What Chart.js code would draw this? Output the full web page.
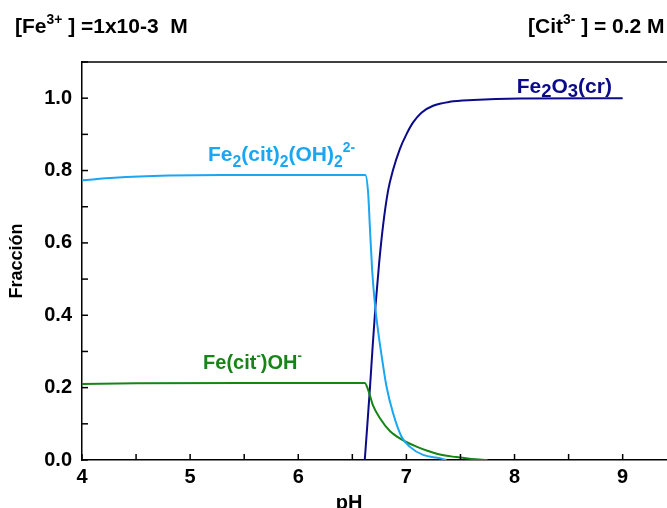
<!DOCTYPE html>
<html>
<head>
<meta charset="utf-8">
<script src="https://cdn.jsdelivr.net/npm/chart.js@4/dist/chart.umd.min.js"></script>
<style>
  html, body { margin: 0; padding: 0; background: #fff; }
  #wrap { position: relative; width: 667px; height: 508px; overflow: hidden; }
</style>
</head>
<body>
<div id="wrap"><canvas id="c" width="667" height="508"></canvas></div>
<script>
// ---- Data ----
const phFe2cit   = [4.0, 4.3, 4.8, 5.3, 6.0, 6.62, 6.646, 6.662, 6.683, 6.708, 6.739, 6.77, 6.816, 6.877, 6.954, 7.03, 7.155, 7.31, 7.37];
const fracFe2cit = [0.773, 0.780, 0.786, 0.788, 0.788, 0.788, 0.739, 0.646, 0.526, 0.434, 0.355, 0.29, 0.203, 0.129, 0.065, 0.037, 0.014, 0.005, 0.0];

const phFeCitOH   = [4.0, 4.5, 5.5, 6.615, 6.646, 6.692, 6.754, 6.847, 6.954, 7.093, 7.2, 7.31, 7.46, 7.6, 7.75];
const fracFeCitOH = [0.210, 0.212, 0.213, 0.213, 0.194, 0.15, 0.116, 0.08, 0.057, 0.037, 0.025, 0.015, 0.008, 0.003, 0.0];

const phFe2O3   = [6.615, 6.637, 6.662, 6.686, 6.714, 6.748, 6.785, 6.831, 6.875, 6.94, 7.0, 7.062, 7.139, 7.247, 7.40, 7.617, 8.05, 9.0];
const fracFe2O3 = [0.0, 0.09, 0.195, 0.305, 0.425, 0.545, 0.65, 0.745, 0.80, 0.86, 0.90, 0.933, 0.960, 0.979, 0.990, 0.995, 0.999, 1.0];

const xTickValues = [4, 5, 6, 7, 8, 9];
const yTickValues = [0.0, 0.2, 0.4, 0.6, 0.8, 1.0];

const headerLeft  = [['[Fe', 0], ['3+', 1], [' ] =1x10-3  M', 0]];
const headerRight = [['[Cit', 0], ['3-', 1], [' ] = 0.2 M', 0]];
const labelFe2cit = [['Fe', 0], ['2', -1], ['(cit)', 0], ['2', -1], ['(OH)', 0], ['2', -1], ['2-', 1]];
const labelFeCitOH = [['Fe(cit', 0], ['-', 1], [')OH', 0], ['-', 1]];
const labelFe2O3 = [['Fe', 0], ['2', -2], ['O', 0], ['3', -2], ['(cr)', 0]];

const xTitle = 'pH';
const yTitle = 'Fracción';

const COL_LB = '#1aa6f2';
const COL_NAVY = '#0b0b8a';
const COL_GREEN = '#168516';
const FAM = "'Liberation Sans', Arial, Helvetica, sans-serif";

function pts(xs, ys) { return xs.map((x, i) => ({ x: x, y: ys[i] })); }

function drawRich(ctx, x, y, parts, size, color) {
  ctx.save();
  ctx.fillStyle = color;
  ctx.textBaseline = 'alphabetic';
  ctx.textAlign = 'left';
  let cx = x;
  for (const [t, k] of parts) {
    let fs = size, dy = 0;
    if (k === 1) { fs = size * 0.66; dy = -size * 0.42; }
    else if (k === -1) { fs = size * 0.75; dy = size * 0.26; }
    else if (k === -2) { fs = size * 0.88; dy = size * 0.16; }
    ctx.font = 'bold ' + fs + 'px ' + FAM;
    ctx.fillText(t, cx, y + dy);
    cx += ctx.measureText(t).width;
  }
  ctx.restore();
}

const decor = {
  id: 'decor',
  afterDraw(chart) {
    const ctx = chart.ctx;
    const xs = chart.scales.x, ys = chart.scales.y;
    const a = chart.chartArea;
    ctx.save();
    ctx.strokeStyle = '#000';
    ctx.lineWidth = 1.5;
    // top frame line
    ctx.beginPath();
    ctx.moveTo(a.left, a.top);
    ctx.lineTo(a.right, a.top);
    ctx.stroke();
    // inward ticks
    xs.ticks.forEach(t => {
      const px = xs.getPixelForValue(t.value);
      ctx.beginPath(); ctx.moveTo(px, a.bottom); ctx.lineTo(px, a.bottom - 6); ctx.stroke();
    });
    ys.ticks.forEach(t => {
      const py = ys.getPixelForValue(t.value);
      ctx.beginPath(); ctx.moveTo(a.left, py); ctx.lineTo(a.left + 6, py); ctx.stroke();
    });
    // x axis title
    ctx.fillStyle = '#000';
    ctx.font = 'bold 20px ' + FAM;
    ctx.textAlign = 'center';
    ctx.textBaseline = 'alphabetic';
    ctx.fillText(xTitle, xs.getPixelForValue(6.47), 508.5);
    ctx.restore();

    // headers
    drawRich(ctx, 15, 33, headerLeft, 21, '#000');
    drawRich(ctx, 528, 33, headerRight, 21, '#000');
    // series labels, anchored in data coordinates
    drawRich(ctx, xs.getPixelForValue(5.165), ys.getPixelForValue(0.826), labelFe2cit, 21, COL_LB);
    drawRich(ctx, xs.getPixelForValue(5.12), ys.getPixelForValue(0.252), labelFeCitOH, 20, COL_GREEN);
    drawRich(ctx, xs.getPixelForValue(8.02), ys.getPixelForValue(1.013), labelFe2O3, 21, COL_NAVY);
  }
};

Chart.defaults.font.family = FAM;

new Chart(document.getElementById('c'), {
  type: 'line',
  data: {
    datasets: [
      { label: 'Fe2(cit)2(OH)2 2-', data: pts(phFe2cit, fracFe2cit), borderColor: COL_LB, borderWidth: 2, pointRadius: 0, cubicInterpolationMode: 'monotone', fill: false },
      { label: 'Fe(cit-)OH-', data: pts(phFeCitOH, fracFeCitOH), borderColor: COL_GREEN, borderWidth: 2, pointRadius: 0, cubicInterpolationMode: 'monotone', fill: false },
      { label: 'Fe2O3(cr)', data: pts(phFe2O3, fracFe2O3), borderColor: COL_NAVY, borderWidth: 2, pointRadius: 0, cubicInterpolationMode: 'monotone', fill: false }
    ]
  },
  options: {
    responsive: false,
    animation: false,
    layout: { padding: { top: 62, left: 0, right: 0, bottom: 0 } },
    plugins: { legend: { display: false }, tooltip: { enabled: false }, title: { display: false } },
    scales: {
      x: {
        type: 'linear',
        min: 4, max: 9.41,
        afterFit(s) { s.height = 48; },
        grid: { display: false, drawTicks: false },
        border: { display: true, color: '#000', width: 1.5 },
        ticks: {
          stepSize: 0.5, includeBounds: false, autoSkip: false, maxRotation: 0,
          padding: 5, color: '#000', font: { size: 20, weight: 'bold' },
          callback: v => (xTickValues.includes(v) ? String(v) : '')
        }
      },
      y: {
        min: 0, max: 1.1,
        afterFit(s) { s.width = 82; },
        grid: { display: false, drawTicks: false },
        border: { display: true, color: '#000', width: 1.5 },
        title: { display: true, text: yTitle, color: '#000', font: { size: 18, weight: 'bold' }, padding: { top: 6, bottom: 0 } },
        ticks: {
          stepSize: 0.1, autoSkip: false, padding: 10, color: '#000', font: { size: 20, weight: 'bold' },
          callback: v => (yTickValues.some(t => Math.abs(t - v) < 1e-6) ? v.toFixed(1) : '')
        }
      }
    }
  },
  plugins: [decor]
});
</script>
</body>
</html>
